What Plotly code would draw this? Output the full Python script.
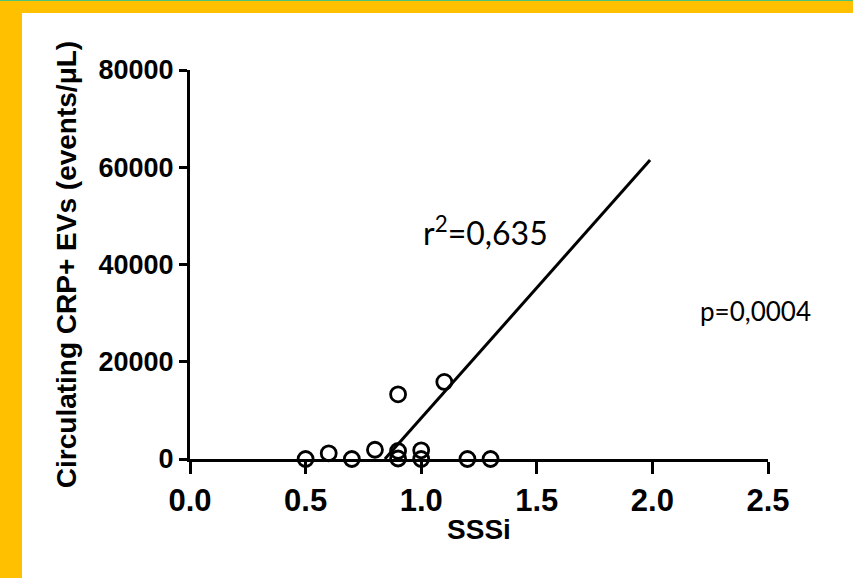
import plotly.graph_objects as go

# SSSi vs circulating CRP+ extracellular vesicles
sssi = [0.5, 0.6, 0.7, 0.8, 0.9, 0.9, 0.9, 1.0, 1.0, 1.1, 1.2, 1.3]
crp_evs = [0, 1170, 0, 1900, 13300, 1650, 100, 1790, 0, 15850, 0, 0]

# Linear regression fit (slope, intercept) and range drawn
fit_slope = 53600
fit_intercept = -45180
fit_x_end = 1.99

x_ticks = [0.0, 0.5, 1.0, 1.5, 2.0, 2.5]
y_ticks = [0, 20000, 40000, 60000, 80000]

r2_text = "r<sup>2</sup>=0,635"
p_text = "p=0,0004"

W, H = 853, 578
L, R, T, B = 190, 85, 70, 119
PW, PH = W - L - R, H - T - B


def px_x(px):
    return (px - L) / PW


def px_y(py):
    return (H - B - py) / PH


fit_x_start = -fit_intercept / fit_slope
fit_x = [fit_x_start, fit_x_end]
fit_y = [fit_slope * v + fit_intercept for v in fit_x]

fig = go.Figure()
fig.add_trace(go.Scatter(
    x=fit_x, y=fit_y, mode="lines",
    line=dict(color="black", width=3),
    hoverinfo="skip", showlegend=False, cliponaxis=False,
))
fig.add_trace(go.Scatter(
    x=sssi, y=crp_evs, mode="markers",
    marker=dict(symbol="circle-open", size=15, color="black",
                line=dict(width=2.8, color="black")),
    showlegend=False, cliponaxis=False,
))

bold = dict(family="Liberation Sans, Arial, sans-serif", color="black", weight="bold")

fig.update_layout(
    width=W, height=H,
    margin=dict(l=L, r=R, t=T, b=B),
    paper_bgcolor="white", plot_bgcolor="white",
    xaxis=dict(
        range=[0, 2.5], tickvals=x_ticks, tickformat=".1f",
        showgrid=False, zeroline=False,
        showline=True, linecolor="black", linewidth=3,
        ticks="outside", ticklen=12, tickwidth=3, tickcolor="black",
        tickfont=dict(size=31, **bold),
        title=dict(text="SSSi", font=dict(size=28, **bold), standoff=3),
    ),
    yaxis=dict(
        range=[0, 80000], tickvals=y_ticks, tickformat="d",
        showgrid=False, zeroline=False,
        showline=True, linecolor="black", linewidth=3,
        ticks="outside", ticklen=8, tickwidth=3, tickcolor="black",
        tickfont=dict(size=27, **bold),
        title=dict(text="Circulating CRP+ EVs (events/\u03bcL)",
                   font=dict(size=28, **bold), standoff=14),
    ),
    annotations=[
        dict(x=1.0, y=46800, xref="x", yref="y", text=r2_text,
             showarrow=False, xanchor="left", yanchor="middle",
             font=dict(family="Lato, Open Sans, sans-serif", size=32, color="black")),
        dict(x=2.445, y=30400, xref="x", yref="y", text=p_text,
             showarrow=False, xanchor="center", yanchor="middle",
             font=dict(family="Lato, Open Sans, sans-serif", size=26, color="black")),
    ],
    shapes=[
        # yellow frame: left band and top band
        dict(type="rect", xref="paper", yref="paper", layer="above",
             x0=px_x(0), x1=px_x(22), y0=px_y(H), y1=px_y(1),
             fillcolor="#FFC000", line=dict(width=0)),
        dict(type="rect", xref="paper", yref="paper", layer="above",
             x0=px_x(0), x1=px_x(W), y0=px_y(13), y1=px_y(1),
             fillcolor="#FFC000", line=dict(width=0)),
        dict(type="rect", xref="paper", yref="paper", layer="above",
             x0=px_x(0), x1=px_x(W), y0=px_y(1), y1=px_y(0),
             fillcolor="#4CC47A", line=dict(width=0)),
    ],
)

fig.write_html("out.html")
